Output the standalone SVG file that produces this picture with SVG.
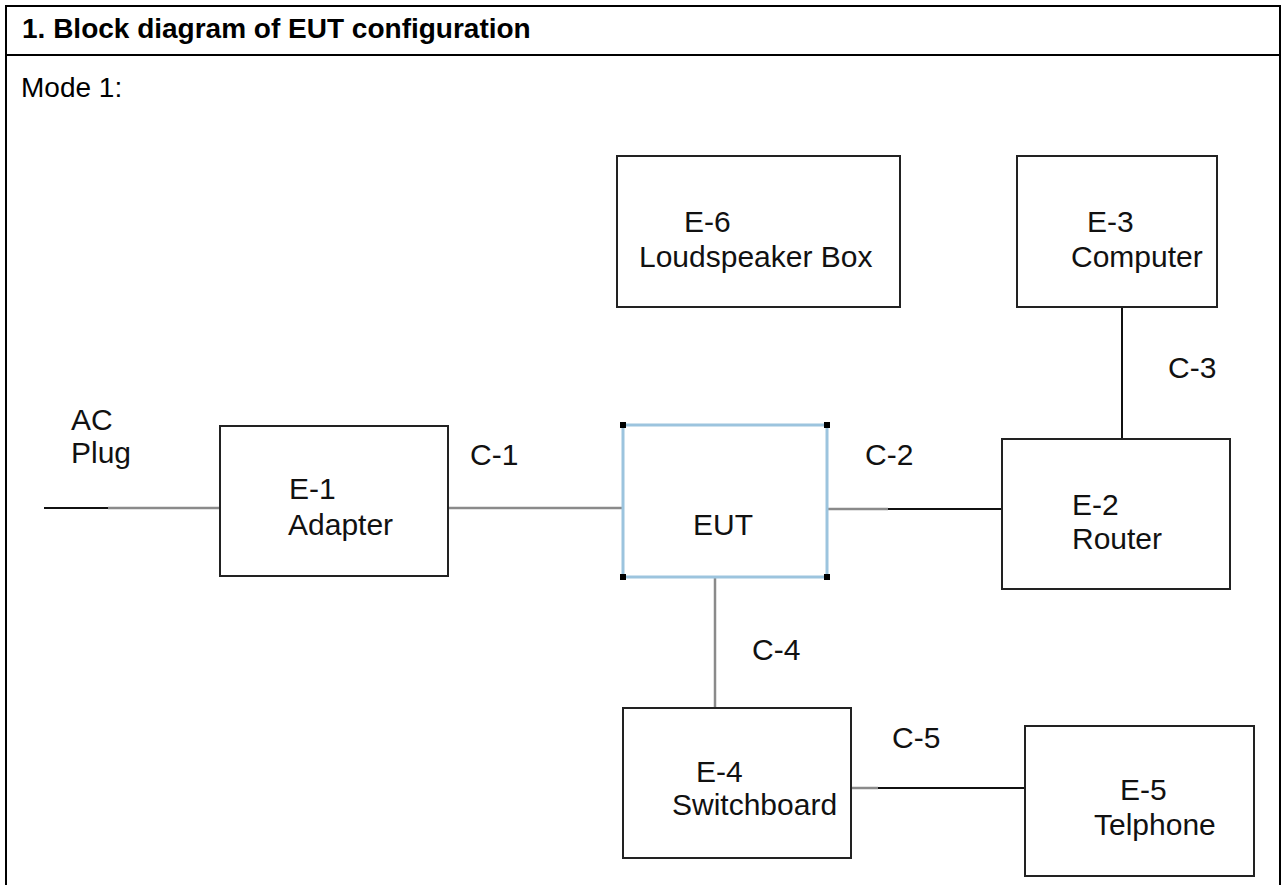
<svg xmlns="http://www.w3.org/2000/svg" width="1285" height="885" viewBox="0 0 1285 885">
<style>
.t{font-family:"Liberation Sans",Arial,sans-serif;font-size:30px;fill:#111}
.h{font-family:"Liberation Sans",Arial,sans-serif;font-size:28px;font-weight:bold;fill:#000}
.m{font-family:"Liberation Sans",Arial,sans-serif;font-size:28px;fill:#000}
.box{fill:#fff;stroke:#222;stroke-width:2}
.eut{fill:#fff;stroke:#9cc4de;stroke-width:3}
.k{stroke:#111;stroke-width:2;fill:none}
.g{stroke:#8a8a8a;stroke-width:2.5;fill:none}
.hd{fill:#000}
</style>
<rect x="0" y="0" width="1285" height="885" fill="#fff"/>
<g id="frame">
<path d="M6,887 V6 H1280 V887" fill="none" stroke="#000" stroke-width="2"/>
<line x1="6" y1="55" x2="1280" y2="55" stroke="#000" stroke-width="2"/>
<text class="h" x="22" y="38">1. Block diagram of EUT configuration</text>
<text class="m" x="21" y="97">Mode 1:</text>
</g>
<g id="connectors">
<line class="k" x1="44" y1="508" x2="108" y2="508"/>
<line class="g" x1="108" y1="508" x2="220" y2="508"/>
<line class="g" x1="448" y1="508" x2="623" y2="508"/>
<line class="g" x1="827" y1="509" x2="888" y2="509"/>
<line class="k" x1="888" y1="509" x2="1002" y2="509"/>
<line class="g" x1="715" y1="577" x2="715" y2="708"/>
<line class="g" x1="851" y1="788" x2="878" y2="788"/>
<line class="k" x1="878" y1="788" x2="1025" y2="788"/>
<line class="k" x1="1122" y1="307" x2="1122" y2="439"/>
<text class="t" x="71" y="430">AC</text>
<text class="t" x="71" y="463">Plug</text>
<text class="t" x="470" y="465">C-1</text>
<text class="t" x="865" y="465">C-2</text>
<text class="t" x="1168" y="378">C-3</text>
<text class="t" x="752" y="660">C-4</text>
<text class="t" x="892" y="748">C-5</text>
</g>
<g id="E6">
<rect class="box" x="617" y="156" width="283" height="151"/>
<text class="t" x="684" y="232">E-6</text>
<text class="t" x="639" y="267">Loudspeaker Box</text>
</g>
<g id="E3">
<rect class="box" x="1017" y="156" width="200" height="151"/>
<text class="t" x="1087" y="232">E-3</text>
<text class="t" x="1071" y="267">Computer</text>
</g>
<g id="E1">
<rect class="box" x="220" y="426" width="228" height="150"/>
<text class="t" x="289" y="499">E-1</text>
<text class="t" x="288" y="535">Adapter</text>
</g>
<g id="EUT">
<rect class="eut" x="623" y="425" width="204" height="152"/>
<rect class="hd" x="620" y="422" width="6" height="6"/>
<rect class="hd" x="824" y="422" width="6" height="6"/>
<rect class="hd" x="620" y="574" width="6" height="6"/>
<rect class="hd" x="824" y="574" width="6" height="6"/>
<text class="t" x="693" y="535">EUT</text>
</g>
<g id="E2">
<rect class="box" x="1002" y="439" width="228" height="150"/>
<text class="t" x="1072" y="515">E-2</text>
<text class="t" x="1072" y="549">Router</text>
</g>
<g id="E4">
<rect class="box" x="623" y="708" width="228" height="150"/>
<text class="t" x="696" y="782">E-4</text>
<text class="t" x="672" y="815">Switchboard</text>
</g>
<g id="E5">
<rect class="box" x="1025" y="726" width="229" height="150"/>
<text class="t" x="1120" y="800">E-5</text>
<text class="t" x="1094" y="835">Telphone</text>
</g>
</svg>
